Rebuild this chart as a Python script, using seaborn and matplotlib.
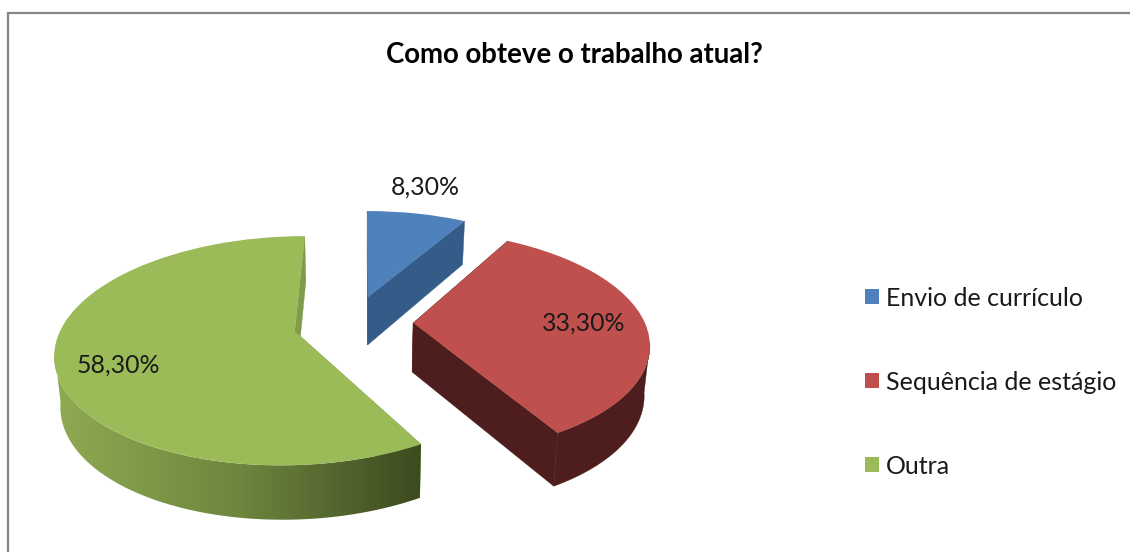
import numpy as np
import seaborn as sns
from matplotlib import pyplot as plt
from matplotlib.transforms import Transform

categories = ['Envio de currículo', 'Sequência de estágio', 'Outra']
values = [8.3, 33.3, 58.3]
top_colors = ['#4F81BD', '#C0504D', '#9BBB59']
wall_colors = ['#355C89', '#4D1E1D', '#7F9C4A']
green_wall = ['#8FAB52', '#6E863F', '#3C4A1F']

# where each slice has been pulled out to, in pie units
slice_centers = [(0.02, 0.248), (0.215, 0.0), (-0.292, -0.075)]

sns.set_theme(style='white')
plt.rcParams['font.family'] = ['Lato', 'DejaVu Sans']


# Tilted view of the flat pie: farther points shrink, the base is pushed down
class PieView(Transform):
    input_dims = 2
    output_dims = 2

    def __init__(self, base=False):
        super().__init__()
        self.base = base

    def transform_non_affine(self, xy):
        xy = np.asarray(xy, dtype=float)
        u, v = xy[:, 0], xy[:, 1]
        w = 1 + 0.168 * v
        px = 363.3 + 231.8 * u / w
        py = 323 - 108.5 * v / w
        if self.base:
            px = 363.3 + (px - 363.3) * 0.98
            py = py + 49 - 5 * v
        return np.column_stack([px, py])


top_view = PieView()
base_view = PieView(base=True)


def wall(ax, pts, color, zorder):
    pts = np.asarray(pts)
    a = top_view.transform_non_affine(pts)
    b = base_view.transform_non_affine(pts)[::-1]
    poly = np.vstack([a, b])
    return ax.fill(poly[:, 0], poly[:, 1], color=color, lw=0.3, zorder=zorder)[0]


fig = plt.figure(figsize=(11.3, 5.52), dpi=100)
ax = fig.add_axes([0, 0, 1, 1])
wedges, _ = ax.pie(values, startangle=90, counterclock=False, radius=1)
ax.set_aspect('auto')

shade = sns.blend_palette(green_wall, 256, as_cmap=True)

for i, w in enumerate(wedges):
    w.set_center(slice_centers[i])
    w.set_facecolor(top_colors[i])
    w.set_edgecolor('none')
    w.set_transform(top_view + ax.transData)
    w.set_zorder(3 + 2 * i)

    # side walls come from the angles the pie gave each wedge
    center = np.array(w.center)
    angles = np.radians(np.linspace(w.theta1, w.theta2, 240))
    rim = center + np.column_stack([np.cos(angles), np.sin(angles)])
    # stop the outer wall at the widest point of the tilted rim
    front = rim[np.sin(angles) < -0.17]
    z = 2 + 2 * i
    wall(ax, [center, rim[0]], wall_colors[i], z)
    wall(ax, [center, rim[-1]], wall_colors[i], z)
    if i == 2:
        # green outer wall fades from left to right
        outline = wall(ax, front, 'none', z)
        grad = ax.imshow(np.linspace(0, 1, 256)[None, :], cmap=shade, aspect='auto',
                         extent=(52, 423, 552, 0), zorder=z + 0.5)
        grad.set_clip_path(outline)
    elif i == 1:
        wall(ax, front, wall_colors[i], z)

ax.set_xlim(0, 1130)
ax.set_ylim(552, 0)
ax.axis('off')

# chart frame
ax.plot([1130, 8, 8], [13, 13, 552], color='#868686', lw=1.6, solid_joinstyle='miter', zorder=1)

ax.text(574, 55, 'Como obteve o trabalho atual?', ha='center', va='center',
        fontsize=19.9, fontweight='bold', color='black', zorder=10)

label_pos = [(425, 187), (584, 323), (118, 365)]
for v, pos in zip(values, label_pos):
    ax.text(pos[0], pos[1], f'{v:.2f}%'.replace('.', ','), ha='center', va='center',
            fontsize=17.9, color='#1a1a1a', zorder=10)

leg = ax.legend(wedges, categories, loc='center left', bbox_to_anchor=(865 / 1130, 1 - 382 / 552),
                frameon=False, fontsize=18, handlelength=0.56, handleheight=0.56,
                handletextpad=0.28, labelspacing=2.44, borderpad=0, borderaxespad=0)
for t in leg.get_texts():
    t.set_color('#1a1a1a')

fig.savefig('out.png', dpi=100)
